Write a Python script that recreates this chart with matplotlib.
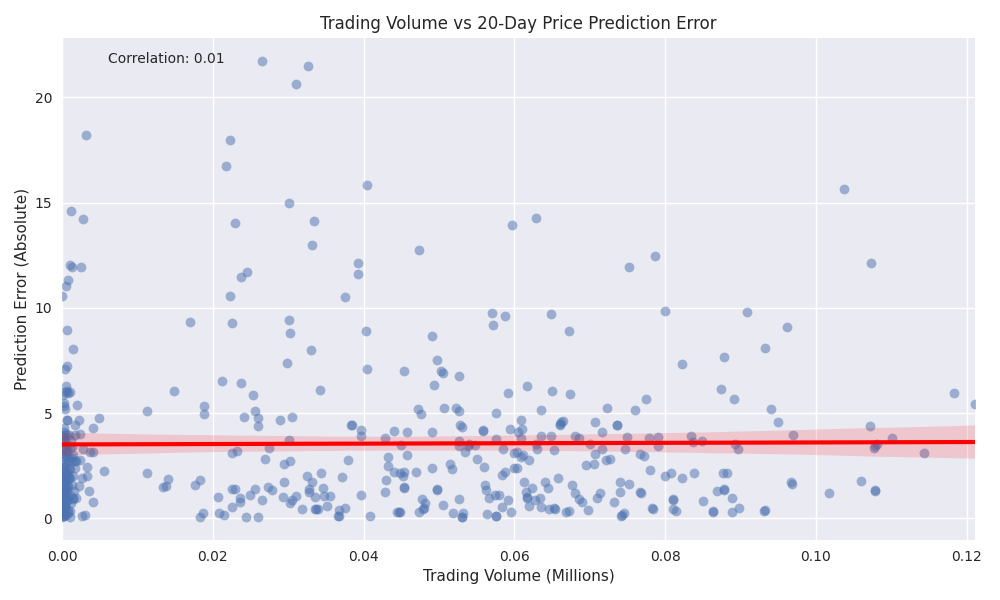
import numpy as np
import pandas as pd
import matplotlib
matplotlib.use("Agg")
import matplotlib.pyplot as plt
import seaborn as sns

# upper / scattered points (volume in millions, abs error)
x_up = [0.0265, 0.0326, 0.0311, 0.0032, 0.0223, 0.0217, 0.0404, 0.1037, 0.0301, 0.0012,
        0.0028, 0.0334, 0.0230, 0.0629, 0.0597, 0.0331, 0.0011, 0.0013, 0.0025, 0.0393,
        0.0473, 0.1073, 0.0752, 0.0787, 0.0008, 0.0246, 0.0238, 0.0393, 0.0000, 0.0005,
        0.0223, 0.0375, 0.0225, 0.0170, 0.0301, 0.0303, 0.0007, 0.0403, 0.0491, 0.0571,
        0.0572, 0.0587, 0.0648, 0.0800, 0.0909, 0.0962, 0.0672, 0.0330, 0.0015, 0.0405,
        0.0497, 0.0878, 0.0823, 0.0933, 0.0298, 0.0007, 0.0004, 0.0503, 0.0505, 0.0454,
        0.0526, 0.0212, 0.0237, 0.0005, 0.0007, 0.0493, 0.0342, 0.0148, 0.0591, 0.0650,
        0.0617, 0.0874, 0.0674, 0.0774, 0.0891, 0.0008, 0.0011, 0.0254, 0.1211, 0.1183,
        0.0003, 0.0004, 0.0020, 0.0189, 0.0256, 0.0113, 0.0189, 0.0507, 0.0523, 0.0526,
        0.0760, 0.0723, 0.0940, 0.0472, 0.0476, 0.0576, 0.0636, 0.0049, 0.0242, 0.0260,
        0.0289, 0.0305, 0.0609, 0.0707, 0.0660, 0.0662, 0.0950, 0.0736, 0.0528, 0.0384,
        0.1072, 0.0023, 0.0017, 0.0260, 0.0041, 0.0558, 0.0440, 0.0491, 0.0458, 0.0397,
        0.0610, 0.0716, 0.0594, 0.0006]
y_up = [21.75, 21.5, 20.65, 18.2, 18.0, 16.75, 15.85, 15.65, 15.0, 14.6,
        14.2, 14.15, 14.05, 14.25, 13.95, 13.0, 12.05, 11.95, 11.95, 12.15,
        12.75, 12.15, 11.95, 12.45, 11.3, 11.7, 11.45, 11.6, 10.55, 11.05,
        10.55, 10.5, 9.3, 9.35, 9.4, 8.8, 8.95, 8.9, 8.65, 9.75,
        9.2, 9.6, 9.7, 9.85, 9.8, 9.1, 8.9, 8.0, 8.05, 7.1,
        7.5, 7.65, 7.35, 8.1, 7.4, 7.25, 7.1, 7.0, 6.9, 7.0,
        6.75, 6.5, 6.45, 6.3, 6.05, 6.35, 6.1, 6.05, 5.95, 6.05,
        6.3, 6.15, 5.9, 5.65, 5.65, 5.95, 6.0, 5.85, 5.45, 5.95,
        5.35, 5.2, 5.4, 5.35, 5.1, 5.1, 4.95, 5.25, 5.25, 5.1,
        5.15, 5.25, 5.2, 5.2, 4.95, 5.0, 5.15, 4.75, 4.8, 4.75,
        4.65, 4.8, 4.65, 4.55, 4.5, 4.55, 4.55, 4.45, 4.45, 4.45,
        4.4, 4.65, 4.45, 4.4, 4.3, 4.2, 4.15, 4.1, 4.1, 4.2,
        4.25, 4.1, 4.25, 4.65]

# dense band below ~4
x_low = [0.0024, 0.0017, 0.0037, 0.0041, 0.0028, 0.0013, 0.0019, 0.0024, 0.0013, 0.0017,
         0.0033, 0.0056, 0.0026, 0.0033, 0.0011, 0.0036, 0.0041, 0.0030, 0.0026, 0.0015,
         0.0019, 0.0008, 0.0023,
         0.0113, 0.0134, 0.0140, 0.0138, 0.0176, 0.0183, 0.0183, 0.0187, 0.0207, 0.0208,
         0.0215,
         0.0226, 0.0232, 0.0225, 0.0230, 0.0225, 0.0236, 0.0236, 0.0244, 0.0249, 0.0260,
         0.0256, 0.0265, 0.0269, 0.0273, 0.0275, 0.0278, 0.0294, 0.0295, 0.0293, 0.0303,
         0.0301, 0.0302, 0.0305, 0.0311,
         0.0318, 0.0325, 0.0327, 0.0331, 0.0328, 0.0335, 0.0336, 0.0339, 0.0343, 0.0346,
         0.0348, 0.0351, 0.0356, 0.0366, 0.0367, 0.0376, 0.0372, 0.0380, 0.0383, 0.0396,
         0.0396, 0.0408,
         0.0428, 0.0433, 0.0433, 0.0430, 0.0429, 0.0441, 0.0448, 0.0445, 0.0448, 0.0450,
         0.0452, 0.0453, 0.0454, 0.0454, 0.0458, 0.0469, 0.0473, 0.0477, 0.0480, 0.0481,
         0.0491, 0.0497, 0.0497, 0.0506, 0.0515, 0.0517, 0.0519, 0.0526, 0.0526, 0.0526,
         0.0530, 0.0532, 0.0530, 0.0535, 0.0540,
         0.0539, 0.0548, 0.0551, 0.0558, 0.0560, 0.0561, 0.0563, 0.0564, 0.0567, 0.0574,
         0.0575, 0.0576, 0.0580, 0.0583, 0.0584, 0.0585, 0.0587, 0.0591, 0.0596, 0.0599,
         0.0599, 0.0604, 0.0603, 0.0605, 0.0609, 0.0609, 0.0612, 0.0613, 0.0616, 0.0617,
         0.0620, 0.0620, 0.0624, 0.0627, 0.0629, 0.0630, 0.0634, 0.0636, 0.0636, 0.0640,
         0.0644, 0.0646, 0.0649, 0.0652, 0.0653, 0.0658, 0.0660,
         0.0664, 0.0668, 0.0673, 0.0676, 0.0680, 0.0680, 0.0686, 0.0686, 0.0690, 0.0695,
         0.0698, 0.0700, 0.0705, 0.0707, 0.0710, 0.0714, 0.0716, 0.0721, 0.0727, 0.0732,
         0.0736, 0.0740, 0.0740, 0.0742, 0.0746, 0.0747, 0.0750, 0.0752, 0.0766, 0.0767,
         0.0772, 0.0779, 0.0780, 0.0783, 0.0791, 0.0791,
         0.0800, 0.0808, 0.0811, 0.0810, 0.0815, 0.0823, 0.0834, 0.0837, 0.0838, 0.0849,
         0.0850, 0.0863, 0.0869, 0.0877, 0.0878, 0.0882, 0.0889, 0.0889, 0.0893, 0.0897,
         0.0898, 0.0931, 0.0970, 0.0967,
         0.1017, 0.1060, 0.1078, 0.1078, 0.1077, 0.1101, 0.1143, 0.1081]
y_low = [4.0, 3.95, 3.15, 3.15, 3.3, 2.85, 2.7, 2.75, 2.7, 2.4,
         2.45, 2.25, 1.9, 2.0, 1.9, 1.3, 0.75, 0.15, 0.1, 0.95,
         0.95, 0.25, 1.55,
         2.15, 1.5, 1.85, 1.55, 1.6, 1.8, 0.05, 0.25, 1.0, 0.25,
         0.15,
         3.1, 3.2, 1.4, 1.4, 0.55, 0.95, 0.75, 0.05, 1.1, 0.05,
         1.4, 0.85, 2.8, 1.5, 3.35, 1.35, 2.6, 1.7, 1.0, 2.7,
         3.7, 0.7, 0.85, 1.05,
         0.45, 2.0, 1.25, 1.7, 1.4, 1.0, 0.45, 0.45, 2.15, 1.45,
         1.05, 0.6, 1.05, 0.1, 0.4, 0.5, 1.95, 2.75, 4.45, 1.1,
         3.9, 0.1,
         3.8, 2.9, 2.5, 1.8, 1.25, 2.2, 0.3, 0.3, 2.15, 3.5,
         2.0, 2.2, 1.5, 1.45, 3.0, 2.2, 0.3, 0.9, 0.5, 0.7,
         2.4, 1.35, 1.4, 0.65, 2.6, 2.35, 0.25, 3.65, 3.45, 0.9,
         0.05, 0.25, 4.35, 3.15, 3.55,
         3.45, 3.5, 2.8, 4.15, 2.45, 1.6, 1.35, 0.2, 0.95, 1.1,
         0.1, 3.75, 1.1, 2.05, 0.55, 3.3, 2.2, 0.85, 0.3, 2.4,
         3.1, 2.4, 3.15, 4.1, 3.8, 2.9, 3.0, 1.7, 1.25, 0.95,
         0.6, 2.75, 1.45, 0.85, 3.55, 3.3, 0.95, 0.55, 3.9, 1.7,
         1.45, 0.45, 3.9, 3.25, 0.5, 1.9, 4.45,
         4.6, 0.3, 0.35, 1.6, 1.2, 3.9, 0.9, 3.8, 0.75, 2.55,
         0.4, 3.55, 2.6, 3.05, 0.95, 1.2, 3.3, 2.75, 2.8, 0.75,
         4.45, 1.7, 1.25, 0.1, 0.25, 3.3, 3.85, 1.65, 3.05, 1.25,
         2.95, 3.8, 2.3, 0.5, 3.85, 3.45,
         2.0, 2.15, 0.9, 0.45, 0.35, 1.9, 3.9, 3.6, 2.15, 3.65,
         0.8, 0.3, 1.3, 2.15, 1.4, 2.15, 0.95, 0.3, 3.55, 3.3,
         0.5, 0.35, 3.95, 1.7,
         1.2, 1.75, 1.35, 3.45, 3.35, 3.8, 3.1, 3.55]

# overlapping marks hidden under others in the band
x_hidden = [0.0811, 0.0878, 0.0968, 0.0784, 0.0743, 0.0768, 0.0864, 0.0932, 0.1079,
            0.0337, 0.0367, 0.0447, 0.0479, 0.0531, 0.0576, 0.0617, 0.0654]
y_hidden = [0.85, 1.35, 1.65, 0.45, 0.15, 1.2, 0.35, 0.4, 1.3,
            0.45, 0.1, 0.3, 0.45, 0.05, 0.1, 1.0, 0.45]

# pile-up at near-zero volume
x_zero = [0.0002, 0.0005, 0.0009, 0.0001, 0.0004, 0.0012, 0.0002, 0.0007, 0.0001, 0.0010,
          0.0003, 0.0006, 0.0000, 0.0014, 0.0004, 0.0001, 0.0008, 0.0003, 0.0005, 0.0000,
          0.0011, 0.0002, 0.0006, 0.0001, 0.0009, 0.0003, 0.0004, 0.0000, 0.0013, 0.0002,
          0.0007, 0.0001, 0.0005, 0.0010, 0.0003, 0.0000, 0.0006, 0.0002, 0.0012, 0.0004,
          0.0001, 0.0008, 0.0003, 0.0000, 0.0005, 0.0002, 0.0010, 0.0006, 0.0004, 0.0009,
          0.0002, 0.0007, 0.0001, 0.0003, 0.0005, 0.0000, 0.0008, 0.0015, 0.0017, 0.0013,
          0.0016, 0.0011, 0.0014, 0.0003, 0.0006, 0.0001, 0.0004, 0.0002, 0.0005, 0.0009,
          0.0001, 0.0003, 0.0000, 0.0002, 0.0004, 0.0001, 0.0006, 0.0002, 0.0000, 0.0003,
          0.0005, 0.0001, 0.0002, 0.0008, 0.0000, 0.0003, 0.0001, 0.0004, 0.0002, 0.0006,
          0.0000, 0.0001, 0.0003, 0.0002]
y_zero = [4.1, 4.0, 3.95, 3.85, 3.75, 3.7, 3.6, 3.5, 3.4, 3.35,
          3.25, 3.15, 3.05, 3.0, 2.9, 2.8, 2.7, 2.6, 2.5, 2.4,
          2.35, 2.25, 2.15, 2.05, 1.95, 1.85, 1.75, 1.65, 1.6, 1.5,
          1.4, 1.3, 1.2, 1.1, 1.0, 0.9, 0.85, 0.75, 0.7, 0.6,
          0.5, 0.4, 0.3, 0.2, 0.15, 0.1, 0.05, 1.55, 2.05, 2.85,
          3.95, 0.95, 1.15, 2.45, 3.3, 3.6, 1.85, 0.9, 2.7, 3.4,
          1.3, 0.35, 2.0, 4.3, 4.65, 5.85, 6.0, 5.5, 3.0, 2.4,
          0.1, 0.2, 0.3, 0.45, 0.55, 0.65, 0.8, 0.9, 1.05, 1.15,
          1.25, 1.35, 1.45, 1.55, 1.7, 1.8, 1.9, 2.0, 2.1, 2.2,
          0.05, 0.25, 0.4, 0.6]

df = pd.DataFrame({
    "volume": x_up + x_low + x_hidden + x_zero,
    "error": y_up + y_low + y_hidden + y_zero,
})

plt.style.use("seaborn-v0_8")
plt.rcParams["font.family"] = "DejaVu Sans"

fig, ax = plt.subplots(figsize=(10, 6))
sns.regplot(data=df, x="volume", y="error", ax=ax,
            scatter_kws={"alpha": 0.5, "s": 50},
            line_kws={"color": "red", "linewidth": 3}, seed=0, truncate=False)
ax.set_xlim(0, df["volume"].max())
ax.set_title("Trading Volume vs 20-Day Price Prediction Error")
ax.set_xlabel("Trading Volume (Millions)")
ax.set_ylabel("Prediction Error (Absolute)")
ax.text(0.05, 0.95, "Correlation: 0.01", transform=ax.transAxes)

fig.subplots_adjust(left=0.062, right=0.975, top=0.937, bottom=0.1)
plt.savefig("out.png", dpi=100)
